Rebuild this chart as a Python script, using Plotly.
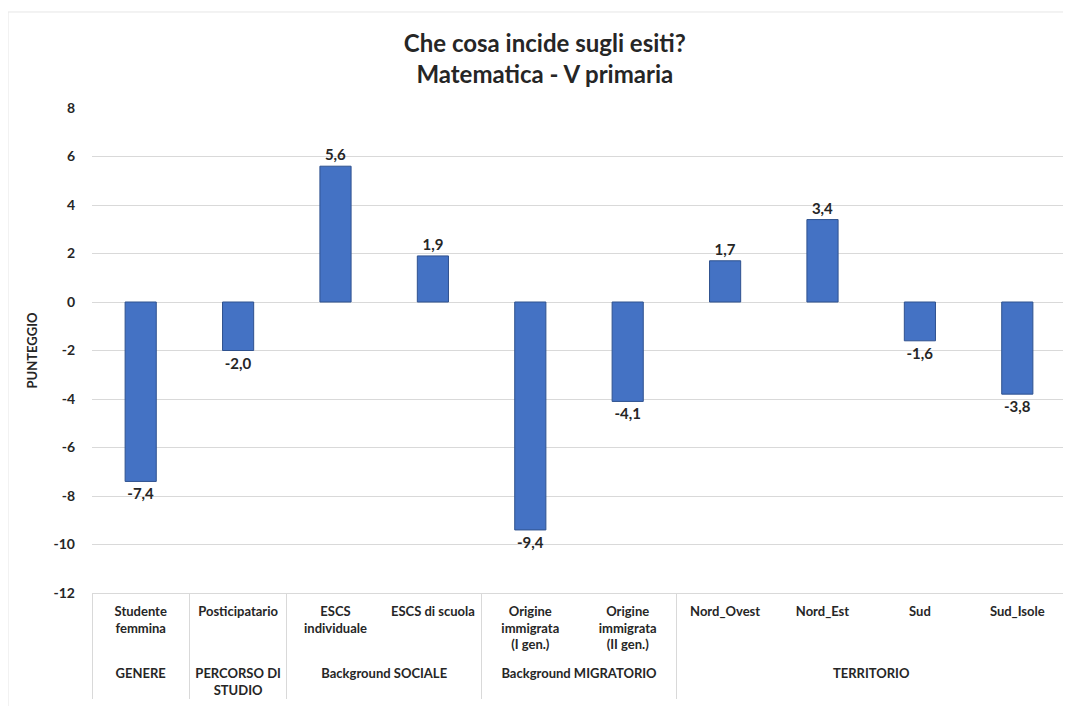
import plotly.graph_objects as go

groups = ["GENERE", "PERCORSO DI<br>STUDIO", "Background SOCIALE", "Background SOCIALE",
          "Background MIGRATORIO", "Background MIGRATORIO",
          "TERRITORIO", "TERRITORIO", "TERRITORIO", "TERRITORIO"]
categories = ["Studente<br>femmina", "Posticipatario", "ESCS<br>individuale", "ESCS di scuola",
              "Origine<br>immigrata<br>(I gen.)<br> ", "Origine<br>immigrata<br>(II gen.)<br> ",
              "Nord_Ovest", "Nord_Est", "Sud", "Sud_Isole"]
values = [-7.4, -2.0, 5.6, 1.9, -9.4, -4.1, 1.7, 3.4, -1.6, -3.8]
y_ticks = [-12, -10, -8, -6, -4, -2, 0, 2, 4, 6, 8]

labels = [f"{v:.1f}".replace(".", ",") for v in values]

FONT = "Lato"
TXT = "#262626"

fig = go.Figure(go.Bar(
    x=[groups, categories],
    y=values,
    text=labels,
    textposition="outside",
    cliponaxis=False,
    textfont=dict(family=FONT, size=15, color=TXT, weight="bold"),
    marker=dict(color="#4472C4", line=dict(color="#2F528F", width=1)),
    width=0.32,
))

# page body has an 8px default margin, so the figure is sized to fit inside the window
fig.update_layout(
    width=1063, height=698,
    paper_bgcolor="white", plot_bgcolor="white",
    margin=dict(l=84, r=5, t=100, b=113, autoexpand=False),
    showlegend=False,
    title=dict(
        text="Che cosa incide sugli esiti?<br>Matematica - V primaria",
        x=0.505, xref="container", xanchor="center",
        y=0.937, yref="container", yanchor="middle",
        font=dict(family=FONT, size=24, color=TXT, weight="bold"),
        automargin=False,
    ),
    font=dict(family=FONT, color=TXT),
)

fig.update_xaxes(
    type="multicategory", automargin=False,
    showline=True, linecolor="#D9D9D9", linewidth=1,
    showdividers=True, dividercolor="#D9D9D9", dividerwidth=1,
    tickfont=dict(family=FONT, size=13, color=TXT, weight="bold"),
    showgrid=False, ticks="", ticklabelstandoff=6,
)

fig.update_yaxes(
    range=[-12, 8], automargin=False,
    tickvals=y_ticks,
    ticktext=[str(t) for t in y_ticks],
    showgrid=True, gridcolor="#D9D9D9", gridwidth=1,
    zeroline=False, showline=False, ticks="",
    tickfont=dict(family=FONT, size=14, color=TXT, weight="bold"),
    ticklabelstandoff=16,
    title=dict(text="PUNTEGGIO", font=dict(family=FONT, size=13, color=TXT, weight="bold"), standoff=12),
)

# light outer frame of the chart area
fig.add_shape(type="rect", xref="paper", yref="paper",
              x0=-0.0862, x1=1.003, y0=-0.26, y1=1.198,
              line=dict(color="#E6E6E6", width=1), layer="below")

fig.write_html("out.html")
